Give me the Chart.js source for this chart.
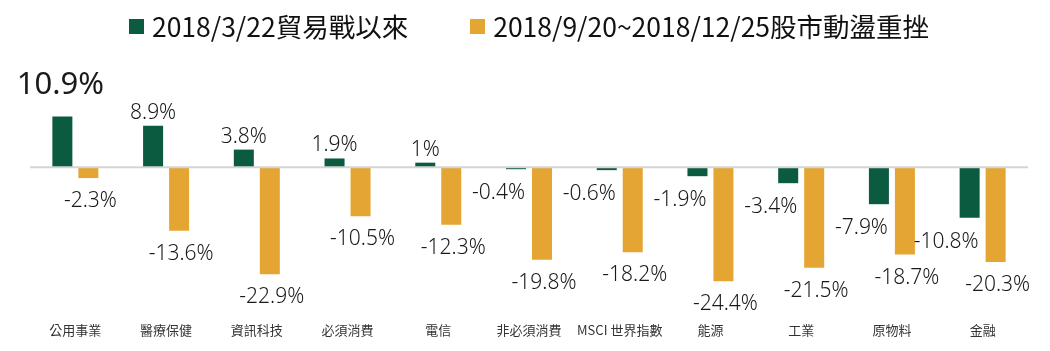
<!DOCTYPE html>
<html>
<head>
<meta charset="utf-8">
<script src="https://cdn.jsdelivr.net/npm/chart.js@4"></script>
<style>
  html, body { margin:0; padding:0; background:#fff; }
  #wrap { position:relative; width:1050px; height:351px; }
  #legend { position:absolute; left:30px; width:998px; top:8px; display:flex; justify-content:center; gap:62px;
            font-family:"Noto Sans CJK TC","Noto Sans",sans-serif; font-size:26.5px; color:#111; line-height:36px; }
  .lg-item { display:flex; align-items:center; }
  .lg-box { width:15px; height:15px; margin-right:8px; }
</style>
</head>
<body>
<div id="wrap">
  <div id="legend"></div>
  <canvas id="chart" width="1050" height="351"></canvas>
</div>
<script>
/* ── data ── */
const categories = ['公用事業','醫療保健','資訊科技','必須消費','電信','非必須消費','MSCI 世界指數','能源','工業','原物料','金融'];
const seriesNames = ['2018/3/22貿易戰以來', '2018/9/20~2018/12/25股市動盪重挫'];
const tradeWar = [10.9, 8.9, 3.8, 1.9, 1, -0.4, -0.6, -1.9, -3.4, -7.9, -10.8];
const selloff  = [-2.3, -13.6, -22.9, -10.5, -12.3, -19.8, -18.2, -24.4, -21.5, -18.7, -20.3];
const yRange = [-28, 14];

const COLORS = ['#0B5B40', '#E5A532'];

/* ── html legend ── */
document.getElementById('legend').innerHTML = seriesNames.map((n, i) =>
  `<div class="lg-item"><span class="lg-box" style="background:${COLORS[i]}"></span><span>${n}</span></div>`).join('');

/* ── zero line + value labels ── */
const labelPlugin = {
  id: 'valueLabels',
  afterDatasetsDraw(chart) {
    const { ctx, chartArea, scales } = chart;
    const y0 = scales.y.getPixelForValue(0);
    ctx.save();
    ctx.strokeStyle = '#D4D4D4';
    ctx.lineWidth = 2;
    ctx.beginPath();
    ctx.moveTo(chartArea.left, y0);
    ctx.lineTo(chartArea.right, y0);
    ctx.stroke();

    ctx.fillStyle = '#1a1a1a';
    ctx.textBaseline = 'alphabetic';
    chart.data.datasets.forEach((ds, di) => {
      chart.getDatasetMeta(di).data.forEach((bar, j) => {
        const v = ds.data[j];
        const txt = v + '%';
        const half = bar.width / 2;
        if (di === 0 && j === 0) {
          // largest value gets the big call-out
          ctx.font = '31px "Noto Sans", sans-serif';
          ctx.textAlign = 'center';
          ctx.fillText(txt, bar.x - 2, bar.y - 22);
          return;
        }
        ctx.font = '300 21px "Noto Sans", sans-serif';
        if (v >= 0) {
          ctx.textAlign = 'center';
          ctx.fillText(txt, bar.x, bar.y - 7);
        } else if (di === 0) {
          ctx.textAlign = 'right';
          ctx.fillText(txt, bar.x + half - 1, bar.y + 30);
        } else {
          ctx.textAlign = 'center';
          ctx.fillText(txt, bar.x + 2, bar.y + 29);
        }
      });
    });
    ctx.restore();
  }
};

new Chart(document.getElementById('chart'), {
  type: 'bar',
  data: {
    labels: categories,
    datasets: [
      { label: seriesNames[0], data: tradeWar, backgroundColor: COLORS[0] },
      { label: seriesNames[1], data: selloff,  backgroundColor: COLORS[1] },
    ]
  },
  options: {
    responsive: false,
    animation: false,
    categoryPercentage: 0.573,
    barPercentage: 0.77,
    layout: { padding: { left: 30, right: 22, top: 102, bottom: 13 } },
    plugins: { legend: { display: false }, tooltip: { enabled: false } },
    scales: {
      x: {
        grid: { display: false, drawTicks: false },
        border: { display: false },
        afterFit(scale) { scale.height = 40; },
        ticks: { color: '#333', padding: 24, font: { family: '"Noto Sans CJK TC", sans-serif', size: 13 }, maxRotation: 0, autoSkip: false }
      },
      y: { display: false, min: yRange[0], max: yRange[1] }
    }
  },
  plugins: [labelPlugin]
});
</script>
</body>
</html>
